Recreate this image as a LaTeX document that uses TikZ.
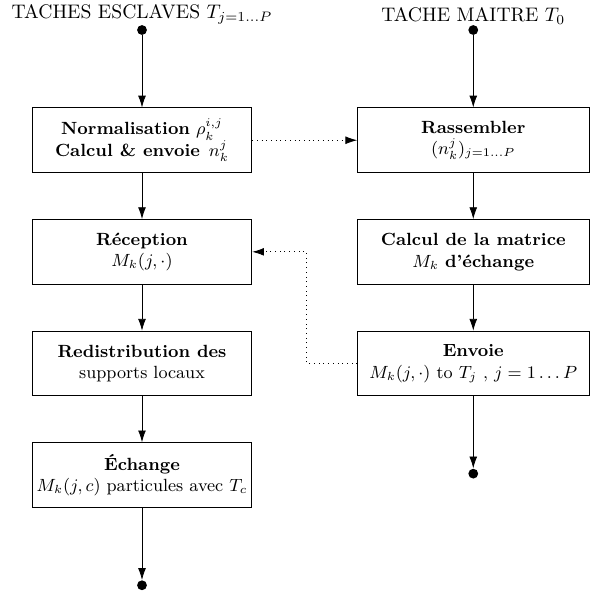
\documentclass[tikz,border=0pt]{standalone}
\usepackage{fontspec}
\usepackage{amsmath}
\usetikzlibrary{shapes,arrows,calc,positioning,arrows.meta}

\begin{document}
\begin{tikzpicture}[
    >={Latex[length=6pt,width=4pt]},node distance=23.5pt,
    tache/.style={rectangle,draw,align=center,font=\small,minimum height=33pt,inner xsep=1.5pt,inner ysep=3pt},
    esclave/.style={tache,minimum width=112pt},
    maitre/.style={tache,minimum width=118pt},
    point/.style={circle,fill,inner sep=0pt,minimum size=5pt}]
    \useasboundingbox (0,0) rectangle (310pt,-303pt);

    % taches esclaves
    \node[point,label={[inner sep=0pt]above:TACHES ESCLAVES $T_{j=1\ldots P}$}] (S0) at (72.4pt,-15.3pt) {};
    \node[esclave] (S1) [below=36.8pt of S0] {\textbf{Normalisation} $\rho_k^{i,j}$\\ \textbf{Calcul \& envoie} \,$n_k^j$};
    \node[esclave] (S2) [below=of S1] {\textbf{Réception}\\ $M_k(j,\cdot)$};
    \node[esclave] (S3) [below=of S2] {\textbf{Redistribution des}\\ supports locaux};
    \node[esclave] (S4) [below=of S3] {\textbf{Échange}\\ $M_k(j,c)$ particules avec $T_c$};
    \node[point] (S5) [below=36.8pt of S4] {};

    % tache maitre
    \node[maitre] (M1) [right=53.5pt of S1] {\textbf{Rassembler}\\ $(n_k^j)_{j=1\ldots P}$};
    \node[point,label={[inner sep=0pt]above:TACHE MAITRE $T_0$}] (M0) [above=36.8pt of M1] {};
    \node[maitre] (M2) [below=of M1] {\textbf{Calcul de la matrice}\\ $M_k$ \textbf{d'échange}};
    \node[maitre] (M3) [below=of M2] {\textbf{Envoie}\\ $M_k(j,\cdot)$ to $T_j$ , $j=1\ldots P$};
    \node[point] (M4) [below=36.8pt of M3] {};

    \coordinate (K) at ($(S2.east)!0.52!(M2.west)$);

    \draw[->] (S0) -- (S1);
    \draw[->] (S1) -- (S2);
    \draw[->] (S2) -- (S3);
    \draw[->] (S3) -- (S4);
    \draw[->] (S4) -- (S5);
    \draw[->] (M0) -- (M1);
    \draw[->] (M1) -- (M2);
    \draw[->] (M2) -- (M3);
    \draw[->] (M3) -- (M4);
    \draw[->,dotted] (S1) -- (M1);
    \draw[->,dotted] (M3.west) -- (M3.west -| K) -- (S2.east -| K) -- (S2.east);
  \end{tikzpicture}
\end{document}
